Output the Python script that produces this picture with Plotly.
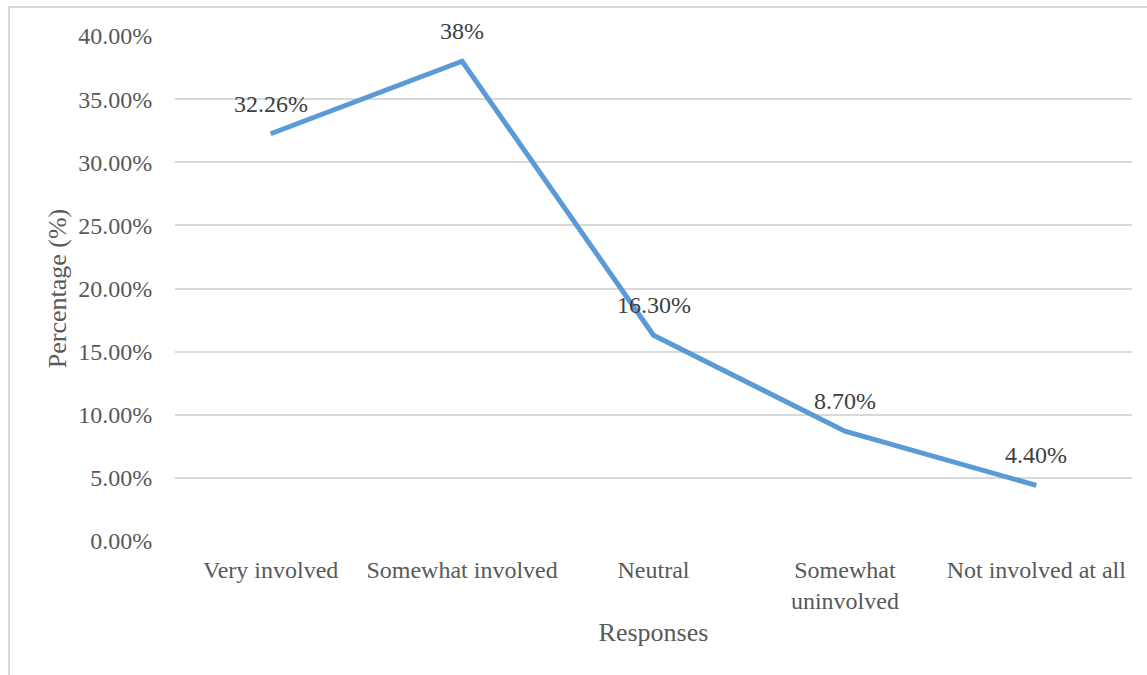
import plotly.graph_objects as go

categories = ["Very involved", "Somewhat involved", "Neutral", "Somewhat<br>uninvolved", "Not involved at all"]
values = [0.3226, 0.38, 0.163, 0.087, 0.044]
value_labels = ["32.26%", "38%", "16.30%", "8.70%", "4.40%"]

FONT = "Liberation Serif, Times New Roman, serif"
GREY = "#595959"

fig = go.Figure()
fig.add_trace(go.Scatter(
    x=categories, y=values, mode="lines",
    line=dict(color="#5B9BD5", width=5),
    hoverinfo="skip", showlegend=False,
))

for c, v, t in zip(categories, values, value_labels):
    fig.add_annotation(x=c, y=v, text=t, showarrow=False, yshift=30,
                       font=dict(family=FONT, size=24, color="#404040"))

# outer chart frame (only top and left edges fall inside the page)
fig.add_shape(type="rect", xref="paper", yref="paper",
              x0=-166 / 957, x1=1.2, y0=-0.5, y1=1 + 29 / 505,
              line=dict(color="#D9D9D9", width=2), layer="below")

fig.update_layout(
    width=1147, height=675,
    margin=dict(l=175, r=15, t=36, b=134),
    paper_bgcolor="white", plot_bgcolor="white",
    font=dict(family=FONT, size=24, color=GREY),
    xaxis=dict(
        type="category", range=[-0.5, 4.5],
        showgrid=False, zeroline=False, showline=False,
        ticks="outside", ticklen=7, tickcolor="rgba(0,0,0,0)",
        tickfont=dict(family=FONT, size=24, color=GREY),
        title=dict(text="Responses", standoff=9,
                   font=dict(family=FONT, size=26, color=GREY)),
        automargin=False,
    ),
    yaxis=dict(
        range=[0, 0.4], dtick=0.05, tickformat=".2%",
        showgrid=True, gridcolor="#D9D9D9", gridwidth=1.5,
        zeroline=False, showline=False,
        ticks="outside", ticklen=17, tickcolor="rgba(0,0,0,0)",
        tickfont=dict(family=FONT, size=24, color=GREY),
        title=dict(text="Percentage (%)", standoff=4,
                   font=dict(family=FONT, size=26, color=GREY)),
        automargin=False,
    ),
)

fig.write_html("out.html")
